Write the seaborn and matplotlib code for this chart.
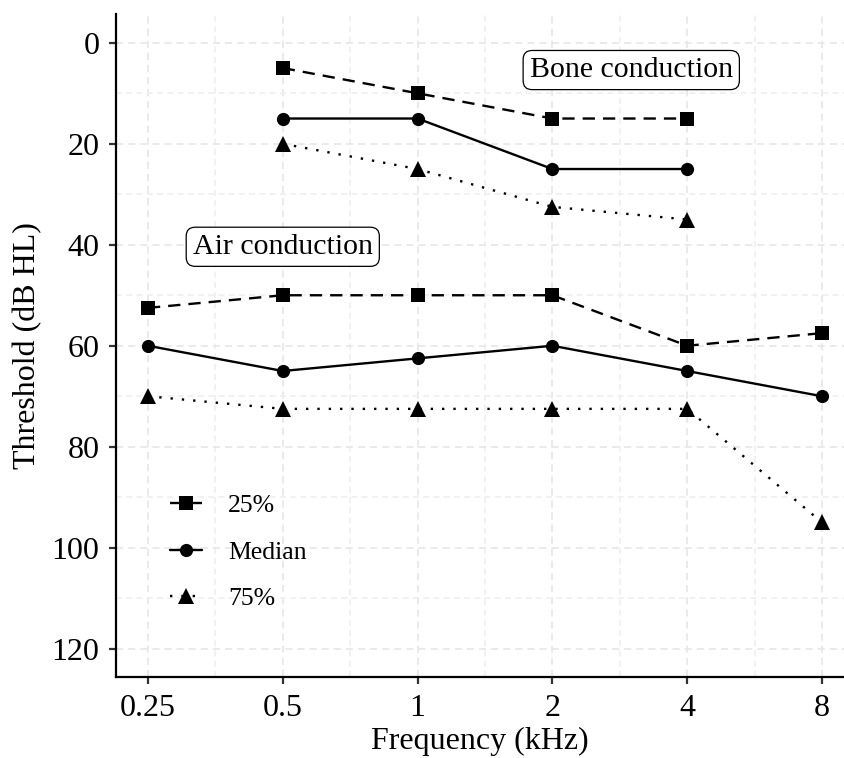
import numpy as np
import pandas as pd
import matplotlib
matplotlib.use("Agg")
import matplotlib.pyplot as plt
from matplotlib.ticker import FixedLocator, NullFormatter
import seaborn as sns

sns.set_theme(style="white")
plt.rcParams['font.family'] = ['Liberation Serif', 'DejaVu Serif']
plt.rcParams['text.color'] = 'black'
plt.rcParams['axes.labelcolor'] = 'black'
plt.rcParams['xtick.color'] = 'black'
plt.rcParams['ytick.color'] = 'black'

freq_labels = ["0.25", "0.5", "1", "2", "4", "8"]
freqs = [0.25, 0.5, 1, 2, 4, 8]

bone_freqs = [0.5, 1, 2, 4]
bone_25 = [5, 10, 15, 15]
bone_med = [15, 15, 25, 25]
bone_75 = [20, 25, 32.5, 35]

air_freqs = [0.25, 0.5, 1, 2, 4, 8]
air_25 = [52.5, 50, 50, 50, 60, 57.5]
air_med = [60, 65, 62.5, 60, 65, 70]
air_75 = [70, 72.5, 72.5, 72.5, 72.5, 95]

stats = ["25%", "Median", "75%"]

rows = []
for cond, fr, vals in [("Bone", bone_freqs, [bone_25, bone_med, bone_75]),
                       ("Air", air_freqs, [air_25, air_med, air_75])]:
    for s, v in zip(stats, vals):
        for f, t in zip(fr, v):
            rows.append({"cond": cond, "stat": s, "freq": f, "thr": t})
df = pd.DataFrame(rows)

fig = plt.figure(figsize=(8.44, 7.58), dpi=100)
ax = fig.add_axes([116/844, 1-677/758, 1-116/844, (677-14)/758])

markers = {"25%": "s", "Median": "o", "75%": "^"}
dashes = {"25%": (5.2, 3.4), "Median": "", "75%": (1, 3.8)}

for i, cond in enumerate(["Air", "Bone"]):
    sns.lineplot(data=df[df.cond == cond], x="freq", y="thr", style="stat",
                 style_order=stats, markers=markers, dashes=dashes,
                 color="black", linewidth=1.7, markersize=9.5,
                 markeredgewidth=0, ax=ax, legend=(i == 0), sort=False)

for ln in ax.lines:
    if ln.get_marker() == "^":
        ln.set_markersize(12)

ax.set_xscale("log", base=2)
ax.set_xlim(2 ** -2.237, 2 ** 3.163)
ax.set_ylim(125.6, -5.7)
ax.set_xticks(freqs)
ax.set_xticklabels(freq_labels)
ax.xaxis.set_minor_locator(FixedLocator([2 ** (k + 0.5) for k in range(-3, 4)]))
ax.xaxis.set_minor_formatter(NullFormatter())
ax.set_yticks([0, 20, 40, 60, 80, 100, 120])
ax.yaxis.set_minor_locator(FixedLocator([10, 30, 50, 70, 90, 110]))

ax.grid(True, which="major", color="#e8e8e8", linestyle=(0, (4, 2.7)), linewidth=1.3)
ax.grid(True, which="minor", color="#eeeeee", linestyle=(0, (4, 2.7)), linewidth=1.1)
ax.set_axisbelow(True)

for side in ["top", "right"]:
    ax.spines[side].set_visible(False)
for side in ["left", "bottom"]:
    ax.spines[side].set_color("black")
    ax.spines[side].set_linewidth(1.6)

ax.tick_params(axis="both", which="major", length=5, width=1.6, color="#333333",
               labelsize=23, labelcolor="black", pad=7, left=True, bottom=True)
ax.tick_params(axis="both", which="minor", length=0)

ax.set_xlabel("Frequency (kHz)", fontsize=23, labelpad=3)
ax.set_ylabel("Threshold (dB HL)", fontsize=23, labelpad=7)

box = dict(boxstyle="round,pad=0.22,rounding_size=0.3", facecolor="white",
           edgecolor="black", linewidth=0.9)
ax.text(3, 5.4, "Bone conduction", ha="center", va="center", fontsize=21.5, bbox=box)
ax.text(0.5, 40.4, "Air conduction", ha="center", va="center", fontsize=21.5, bbox=box)

leg = ax.legend(title=None, frameon=False, loc="upper left",
                bbox_to_anchor=(170/844, 1-494/758), bbox_transform=fig.transFigure,
                fontsize=18.5, handlelength=1.25, labelspacing=0.92, handletextpad=1.0,
                borderaxespad=0, borderpad=0)
for t in leg.get_texts():
    t.set_color("black")

fig.savefig("out.png", dpi=100)
